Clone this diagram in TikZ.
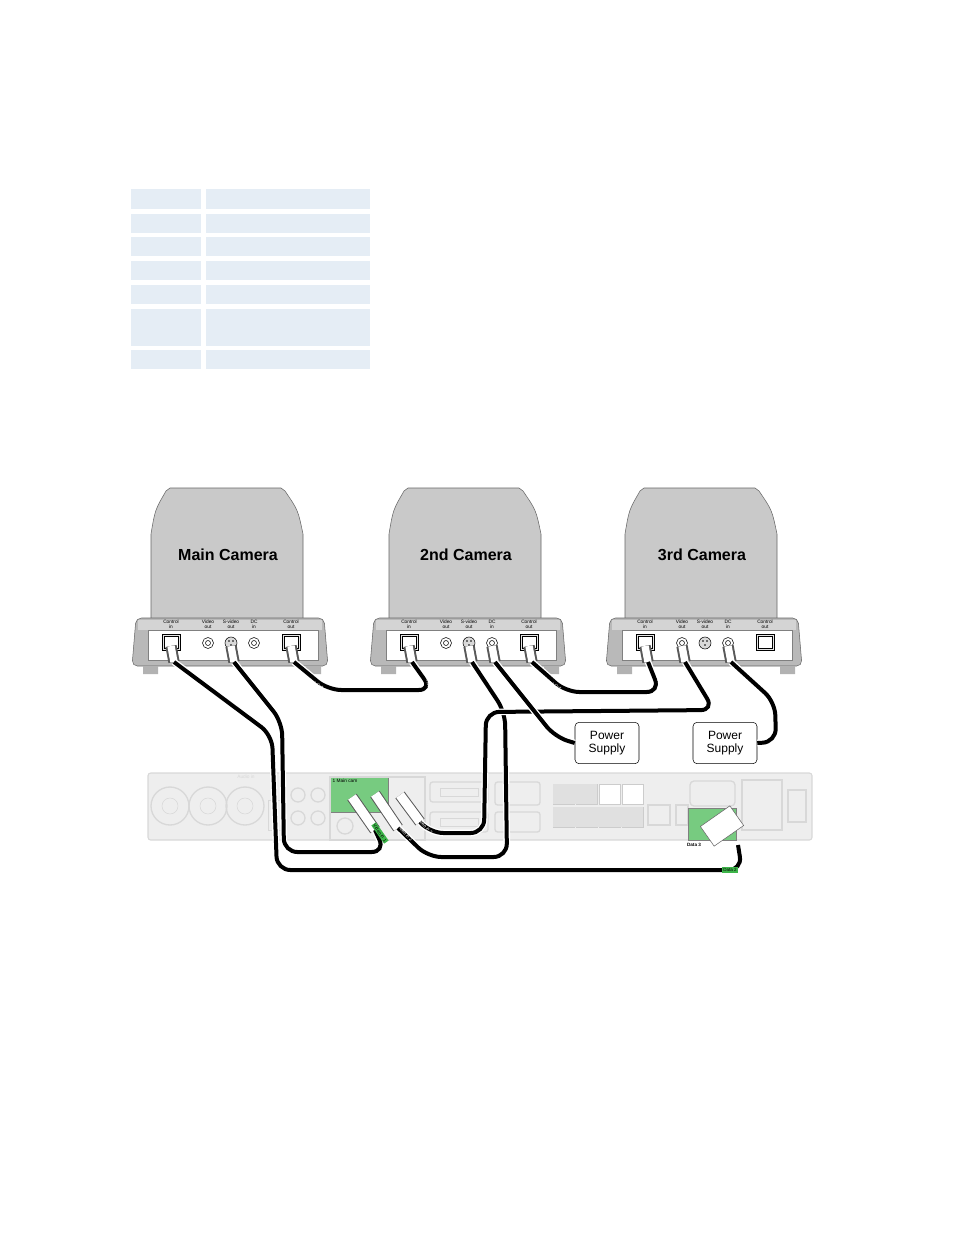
\documentclass[tikz,border=0pt]{standalone}
\usepackage{fontspec}
\setmainfont{Liberation Sans}
\definecolor{tbl}{HTML}{E5EDF5}
\definecolor{camg}{HTML}{C9C9C9}
\definecolor{pang}{HTML}{EEEEEE}
\definecolor{pnl}{HTML}{D8D8D8}
\definecolor{grn}{HTML}{3DB54A}
\tikzset{
  tcell/.style={fill=tbl,draw=none},
  cable/.style={line width=3pt,black,rounded corners=10pt,preaction={draw=white,line width=5pt}},
  plugst/.style={line width=7pt,white,preaction={draw=gray!70!black,line width=8.5pt}},
  psbox/.style={draw,rounded corners=3pt,minimum width=48pt,minimum height=31pt,align=center,font=\fontsize{9}{10}\selectfont,fill=white,inner sep=1pt},
  tiny/.style={font=\fontsize{3.6}{3.6}\selectfont,align=center,inner sep=0pt},
  clab/.style={font=\fontsize{3.4}{3.4}\selectfont,text=white,inner sep=0pt},
  pics/camera/.style={code={
    \fill[camg,draw=black!60,line width=0.4pt] (-77,132) -- (-77,46) .. controls (-73,22) .. (-62,3) -- (-58,0) -- (53,0) -- (57,3) .. controls (70,22) .. (75,46) -- (75,132) -- cycle;
    \node[font=\bfseries\fontsize{12}{13}\selectfont] (-title) at (0,67) {#1};
    \fill[gray!55,draw=black!60,line width=0.4pt,rounded corners=4pt] (-92,130) -- (96,130) -- (100,178) -- (-96,178) -- cycle;
    \fill[camg!80!white] (-90,132) rectangle (94,142);
    \fill[white,draw=black!50,line width=0.3pt] (-80,142) rectangle (90,172);
    \fill[gray!60] (-85,178) rectangle (-70,186) (78,178) rectangle (93,186);
    \node[tiny] at (-57,136) {Control\\in};
    \node[tiny] at (-20,136) {Video\\out};
    \node[tiny] at (3,136) {S-video\\out};
    \node[tiny] at (26,136) {DC\\in};
    \node[tiny] at (63,136) {Control\\out};
    \draw[line width=0.4pt,fill=gray!20] (-66,146) rectangle (-48,162);
    \draw[line width=0.4pt,fill=white] (-64,148) rectangle (-50,160);
    \draw[line width=0.4pt,fill=white] (-20,155) circle (5.5);\draw[line width=0.4pt] (-20,155) circle (2.5);
    \draw[line width=0.4pt,fill=gray!30] (3,155) circle (6);\fill (1,153) circle (0.8) (5,153) circle (0.8) (3,157) circle (0.8);
    \draw[line width=0.4pt,fill=white] (26,155) circle (5.5);\draw[line width=0.4pt] (26,155) circle (2.5);
    \draw[line width=0.4pt,fill=gray!20] (54,146) rectangle (72,162);
    \draw[line width=0.4pt,fill=white] (56,148) rectangle (70,160);
    \coordinate (-ci) at (-57,158);
    \coordinate (-vo) at (-20,158);
    \coordinate (-so) at (3,158);
    \coordinate (-dc) at (26,158);
    \coordinate (-co) at (63,158);
  }}
}
\begin{document}
\begin{tikzpicture}[x=0.75pt,y=-0.75pt]
\useasboundingbox (0,0) rectangle (954,1235);
% table
\foreach \a/\b in {189/209,214/233,237/256,261/280,285/304,309/346,350/369}{
  \fill[tcell] (131,\a) rectangle (201,\b);
  \fill[tcell] (206,\a) rectangle (370,\b);
}
% cameras
\pic (cam1) at (228,488) {camera=Main Camera};
\pic (cam2) at (466,488) {camera=2nd Camera};
\pic (cam3) at (702,488) {camera=3rd Camera};
% codec panel
\fill[pang,draw=pnl,line width=0.8pt,rounded corners=2pt] (148,773) rectangle (812,840);
\foreach \x in {170,208,245}{\draw[pnl,line width=1pt] (\x,806) circle (19);\draw[pnl] (\x,806) circle (8);}
\node[tiny,text=pnl] at (246,777) {Audio in};
\foreach \x in {298,318}{\foreach \y in {795,818}{\draw[pnl,line width=1pt] (\x,\y) circle (7);}}
\draw[pnl] (268,800) rectangle (285,830);
\fill[grn!70!white,draw=black!50] (330,777) rectangle (388,812);
\node[tiny] at (345,781) {1 Main cam};
\draw[pnl,line width=0.8pt] (330,777) rectangle (425,840);
\draw[pnl,line width=1pt] (345,826) circle (8);
\foreach \y in {782,812}{\draw[pnl,line width=1pt,rounded corners=2pt] (430,\y) rectangle (488,\y+20);\draw[pnl] (440,\y+6) rectangle (478,\y+14);}
\draw[pnl,line width=1pt,rounded corners=2pt] (495,782) rectangle (540,805);
\draw[pnl,line width=1pt,rounded corners=2pt] (495,812) rectangle (540,832);
\foreach \x in {553,576,599,622}{\foreach \y in {784,807}{\draw[gray!40,fill=white] (\x,\y) rectangle (\x+21,\y+20);}}
\fill[pnl!80!white] (553,784) rectangle (597,804);
\fill[pnl!80!white] (553,807) rectangle (643,827);
\draw[pnl,line width=1pt] (648,805) rectangle (670,825);
\draw[pnl,line width=1pt] (676,805) rectangle (688,825);
\draw[pnl,line width=1pt,rounded corners=3pt] (690,781) rectangle (735,806);
\fill[grn!70!white,draw=black!50] (688,808) rectangle (736,840);
\draw[pnl,line width=1.2pt] (742,780) rectangle (782,830);
\draw[pnl,line width=1pt] (788,790) rectangle (806,822);
\node[font=\fontsize{3.5}{3.5}\selectfont\bfseries] (d3) at (694,845) {Data 3};
% panel connectors
\coordinate (b1) at (352,797);\coordinate (b1e) at (375,830);
\coordinate (b2) at (375,794);\coordinate (b2e) at (398,828);
\coordinate (b3) at (400,795);\coordinate (b3e) at (420,822);
\draw[plugst] (b1) -- (b1e);
\draw[plugst] (b2) -- (b2e);
\draw[plugst] (b3) -- (b3e);
\fill[white,draw=black!60,rotate around={35:(722,826)}] (704,814) rectangle (740,838);
\coordinate (db) at (738,845);
% plugs at cameras
\foreach \c in {cam1-ci,cam1-so,cam1-co,cam2-ci,cam2-so,cam2-dc,cam2-co,cam3-ci,cam3-vo,cam3-dc}{
  \draw[plugst,line width=5.5pt,preaction={draw=gray!70!black,line width=7pt}] (\c) -- ++(3,16);
}
% cables
\draw[cable] ([shift={(3,16)}]cam1-ci) -- (272,735) -- (277,870) -- (742,870) -- (db);
\draw[cable] ([shift={(3,16)}]cam1-so) -- (282,722) -- (284,852) -- (385,852) -- (b1e);
\draw[cable] ([shift={(3,16)}]cam2-so) -- (505,712) -- (507,857) -- (428,857) -- (b2e);
\draw[cable] ([shift={(3,16)}]cam3-vo) -- (714,710) -- (486,712) -- (484,833) -- (430,833) -- (b3e);
\draw[cable] ([shift={(3,16)}]cam1-co) -- (328,690) -- (432,690) -- ([shift={(3,16)}]cam2-ci);
\draw[cable] ([shift={(3,16)}]cam2-co) -- (566,692) -- (660,692) -- ([shift={(3,16)}]cam3-ci);
\node[psbox] (ps1) at (607,743) {Power\\Supply};
\node[psbox] (ps2) at (725,743) {Power\\Supply};
\draw[cable] ([shift={(3,16)}]cam2-dc) -- (555,737) -- (ps1.west);
\draw[cable] ([shift={(3,16)}]cam3-dc) -- (775,702) -- (776,742) -- (ps2.east);
% cable labels
\node[clab,rotate=-30] at (313,682) {Control Out};
\node[clab,rotate=-30] at (551,683) {Control Out};
\node[clab,rotate=-80] at (429,686) {Control In};
\node[clab,rotate=-80] at (660,686) {Control In};
\node[font=\fontsize{3.4}{3.4}\selectfont,fill=grn,rotate=-55,inner sep=0.8pt] at (380,833) {Video in 1};
\node[font=\fontsize{3.4}{3.4}\selectfont,text=white,rotate=-48,inner sep=0pt] at (405,833) {Video in 2};
\node[font=\fontsize{3.4}{3.4}\selectfont,text=white,rotate=-48,inner sep=0pt] at (425,826) {Video in 3};
\node[font=\fontsize{3.4}{3.4}\selectfont,fill=grn,inner sep=0.8pt] at (730,870) {Data 2};
\end{tikzpicture}
\end{document}
